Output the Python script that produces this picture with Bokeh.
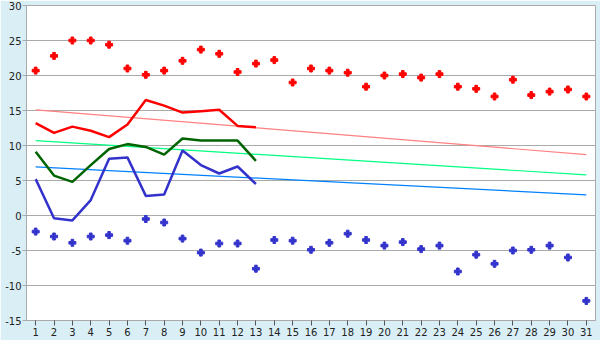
from bokeh.plotting import figure
from bokeh.models import Range1d, FixedTicker, PrintfTickFormatter
from bokeh.embed import file_html
from bokeh.resources import INLINE

days = list(range(1, 32))
tmax_pts = [20.7, 22.8, 25.0, 25.0, 24.4, 21.0, 20.1, 20.7, 22.1, 23.7, 23.1, 20.5, 21.7, 22.2, 19.0, 21.0,
            20.7, 20.4, 18.4, 20.0, 20.2, 19.7, 20.2, 18.4, 18.1, 17.0, 19.4, 17.2, 17.7, 18.0, 17.0]
tmin_pts = [-2.3, -3.0, -3.9, -3.0, -2.8, -3.6, -0.5, -1.0, -3.3, -5.3, -4.0, -4.0, -7.6, -3.5, -3.6, -4.9,
            -3.9, -2.6, -3.5, -4.3, -3.8, -4.8, -4.3, -8.0, -5.6, -6.9, -5.0, -4.9, -4.3, -6.0, -12.2]

line_days = list(range(1, 14))
max_line = [13.2, 11.8, 12.7, 12.1, 11.2, 13.0, 16.5, 15.7, 14.7, 14.9, 15.1, 12.8, 12.6]
mean_line = [9.1, 5.7, 4.8, 7.2, 9.5, 10.2, 9.8, 8.7, 11.0, 10.7, 10.7, 10.7, 7.8]
min_line = [5.2, -0.4, -0.7, 2.2, 8.1, 8.3, 2.8, 3.0, 9.3, 7.2, 6.0, 7.0, 4.5]

trend_days = [1, 31]
max_trend = [15.1, 8.7]
mean_trend = [10.7, 5.8]
min_trend = [6.95, 2.95]

y_ticks = [-15, -10, -5, 0, 5, 10, 15, 20, 25, 30]

BG = "#d9eff5"
GRID = "#aaaaaa"

p = figure(width=600, height=340, output_backend="svg", toolbar_location=None,
           x_range=Range1d(0.5, 31.5), y_range=Range1d(-15, 30),
           min_border_left=26, min_border_right=5, min_border_top=5, min_border_bottom=20)
p.border_fill_color = BG
p.background_fill_color = "white"
p.outline_line_color = GRID
p.xgrid.grid_line_color = None
p.ygrid.grid_line_color = GRID
p.ygrid.ticker = FixedTicker(ticks=y_ticks)

p.xaxis.ticker = FixedTicker(ticks=days)
p.yaxis.ticker = FixedTicker(ticks=y_ticks)
p.yaxis.formatter = PrintfTickFormatter(format="%d")
for ax in (p.xaxis, p.yaxis):
    ax.axis_line_color = GRID
    ax.major_tick_line_color = "#555555"
    ax.minor_tick_line_color = None
    ax.major_tick_in = 0
    ax.major_tick_out = 5
    ax.major_label_standoff = 2
    ax.major_label_text_font = "DejaVu Sans"
    ax.major_label_text_font_size = "10px"
    ax.major_label_text_color = "#222222"
p.yaxis.major_tick_line_color = GRID
p.yaxis.major_tick_out = 4
p.yaxis.major_label_standoff = 1

# trend lines
p.line(trend_days, max_trend, line_color="#ff8080", line_width=1.2)
p.line(trend_days, mean_trend, line_color="#00ff80", line_width=1.2)
p.line(trend_days, min_trend, line_color="#0080ff", line_width=1.2)

# daily lines
p.line(line_days, max_line, line_color="#ff0000", line_width=2.5)
p.line(line_days, mean_line, line_color="#006400", line_width=2.5)
p.line(line_days, min_line, line_color="#3333cc", line_width=2.5)

# points
p.scatter(days, tmax_pts, marker="plus", size=7, fill_color="#ff0000", line_color="#ff0000")
p.scatter(days, tmin_pts, marker="plus", size=7, fill_color="#3333cc", line_color="#3333cc")

open("out.html", "w").write(file_html(p, INLINE))
